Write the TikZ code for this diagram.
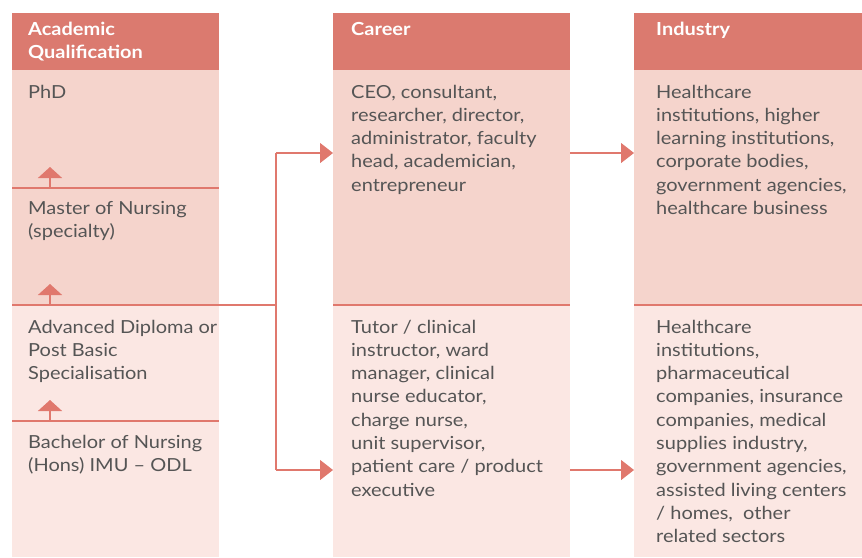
\documentclass[tikz,border=0pt]{standalone}
\usepackage{fontspec}
\setmainfont[FakeStretch=1.11]{Lato}
\usetikzlibrary{arrows.meta}
\definecolor{hdr}{HTML}{DB7A6F}
\definecolor{upr}{HTML}{F5D4CC}
\definecolor{lwr}{HTML}{FBE7E3}
\definecolor{lnc}{HTML}{E0786D}
\definecolor{txc}{HTML}{555555}
\newcommand{\txtlines}[1]{\fontsize{18}{23.3}\selectfont\begin{tabular}[t]{@{}l@{}}#1\end{tabular}}
\begin{document}
\begin{tikzpicture}[x=1pt,y=-1pt,
  box/.style={rectangle, inner sep=0pt, outer sep=0pt, anchor=north west},
  hdrbox/.style={box, fill=hdr, minimum height=57pt},
  uprbox/.style={box, fill=upr, minimum height=235pt},
  lwrbox/.style={box, fill=lwr, minimum height=252pt},
  hdrtext/.style={anchor=base west, inner sep=0pt, text=white, font=\bfseries},
  bodytext/.style={anchor=base west, inner sep=0pt, text=txc},
  sepline/.style={draw=lnc, line width=1.1pt},
  conn/.style={draw=lnc, line width=1.2pt},
  bigarrow/.style={conn, -{Triangle[width=20pt,length=13pt]}},
  smallarrow/.style={conn, -{Triangle[width=24pt,length=11pt]}}
]
\useasboundingbox (0,0) rectangle (862,557);

% column 1
\node[hdrbox, minimum width=207pt] (h1) at (12,13) {};
\node[uprbox, minimum width=207pt] (u1) at (12,70) {};
\node[lwrbox, minimum width=207pt] (l1) at (12,305) {};
% column 2
\node[hdrbox, minimum width=237pt] (h2) at (333,13) {};
\node[uprbox, minimum width=237pt] (u2) at (333,70) {};
\node[lwrbox, minimum width=237pt] (l2) at (333,305) {};
% column 3
\node[hdrbox, minimum width=228pt] (h3) at (634,13) {};
\node[uprbox, minimum width=228pt] (u3) at (634,70) {};
\node[lwrbox, minimum width=228pt] (l3) at (634,305) {};

% separator lines
\coordinate (s1a) at (12,188);  \coordinate (s1b) at (219,188);
\coordinate (s3a) at (12,421);  \coordinate (s3b) at (219,421);
\draw[sepline] (s1a) -- (s1b);
\draw[sepline] (s3a) -- (s3b);
\draw[sepline] (l1.north west) -- (l1.north east);
\draw[sepline] (l2.north west) -- (l2.north east);
\draw[sepline] (l3.north west) -- (l3.north east);

% small upward arrows
\coordinate (p1) at (50,188); \coordinate (q1) at (50,167);
\coordinate (p2) at (50,305); \coordinate (q2) at (50,284);
\coordinate (p3) at (50,421); \coordinate (q3) at (50,400);
\draw[smallarrow] (p1) -- (q1);
\draw[smallarrow] (p2) -- (q2);
\draw[smallarrow] (p3) -- (q3);

% headers
\node[hdrtext] (ht1) at (28,35) {\txtlines{Academic\\Qualification}};
\node[hdrtext] (ht2) at (351,35) {\txtlines{Career}};
\node[hdrtext] (ht3) at (656,35) {\txtlines{Industry}};

% body texts
\node[bodytext] (t1) at (28,98) {\txtlines{PhD}};
\node[bodytext] (t2) at (28,214) {\txtlines{Master of Nursing\\(specialty)}};
\node[bodytext] (t3) at (28,333) {\txtlines{Advanced Diploma or\\Post Basic\\Specialisation}};
\node[bodytext] (t4) at (28,448) {\txtlines{Bachelor of Nursing\\(Hons) IMU – ODL}};

\node[bodytext] (c1) at (351,98) {\txtlines{CEO, consultant,\\researcher, director,\\administrator, faculty\\head, academician,\\entrepreneur}};
\node[bodytext] (c2) at (351,333) {\txtlines{Tutor / clinical\\instructor, ward\\manager, clinical\\nurse educator,\\charge nurse,\\unit supervisor,\\patient care / product\\executive}};

\node[bodytext] (i1) at (656,98) {\txtlines{Healthcare\\institutions, higher\\learning institutions,\\corporate bodies,\\government agencies,\\healthcare business}};
\node[bodytext] (i2) at (656,333) {\txtlines{Healthcare\\institutions,\\pharmaceutical\\companies, insurance\\companies, medical\\supplies industry,\\government agencies,\\assisted living centers\\/ homes,~ other\\related sectors}};

% connectors
\coordinate (j) at (276,305);
\coordinate (ja) at (276,153);
\coordinate (jb) at (276,470);
\coordinate (a2) at (333,153);
\coordinate (b2) at (333,470);
\coordinate (a2o) at (570,153);
\coordinate (b2o) at (570,470);
\coordinate (a3) at (634,153);
\coordinate (b3) at (634,470);
\draw[conn] (u1.south east) -- (j);
\draw[conn] (ja) -- (jb);
\draw[bigarrow] (ja) -- (a2);
\draw[bigarrow] (jb) -- (b2);
\draw[bigarrow] (a2o) -- (a3);
\draw[bigarrow] (b2o) -- (b3);
\end{tikzpicture}
\end{document}
